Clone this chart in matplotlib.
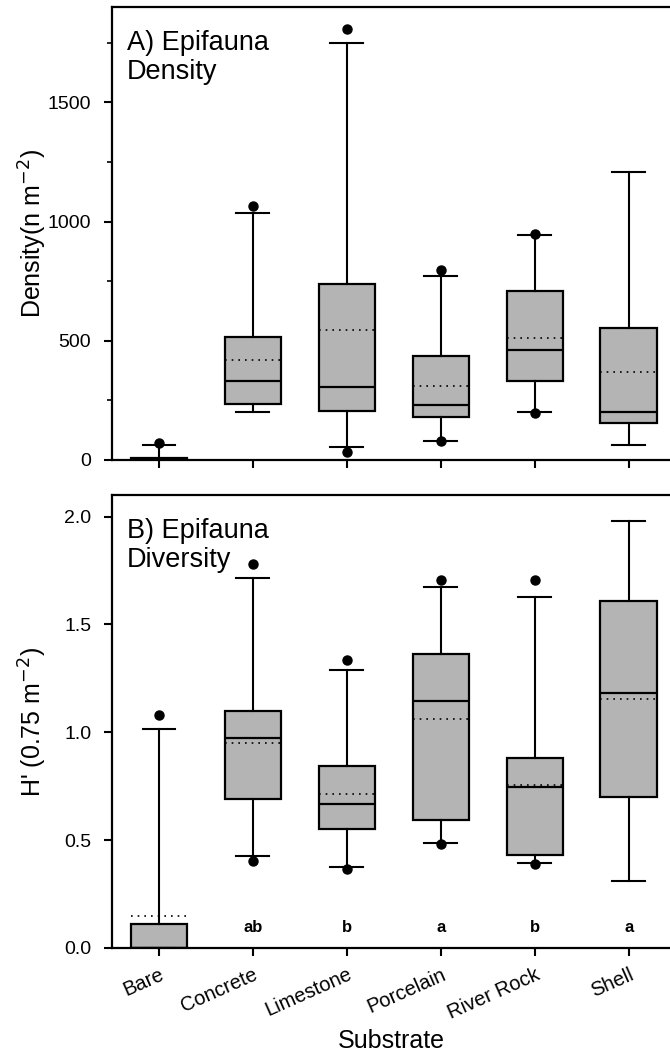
import matplotlib
matplotlib.use("Agg")
import matplotlib.pyplot as plt

plt.rcParams['font.family'] = ['Liberation Sans', 'DejaVu Sans']

categories = ["Bare", "Concrete", "Limestone", "Porcelain", "River Rock", "Shell"]

# Panel A: density
dens_whislo = [0, 203, 53, 81, 203, 63]
dens_q1 = [0, 235, 207, 179, 333, 154]
dens_med = [0, 333, 308, 231, 462, 203]
dens_mean = [4, 420, 546, 311, 511, 367]
dens_q3 = [8, 515, 739, 437, 707, 553]
dens_whishi = [63, 1034, 1750, 773, 945, 1207]
dens_fliers = [[70], [1064], [1809, 35], [795, 78], [948, 196], []]

# Panel B: diversity
div_whislo = [0, 0.427, 0.377, 0.489, 0.392, 0.312]
div_q1 = [0, 0.689, 0.550, 0.594, 0.432, 0.698]
div_med = [0, 0.972, 0.666, 1.143, 0.748, 1.183]
div_mean = [0.15, 0.949, 0.715, 1.062, 0.755, 1.154]
div_q3 = [0.111, 1.098, 0.843, 1.361, 0.879, 1.608]
div_whishi = [1.013, 1.716, 1.287, 1.674, 1.625, 1.98]
div_fliers = [[1.078], [1.779, 0.404], [1.333, 0.365], [1.705, 0.481], [1.708, 0.388], []]

letters = ["", "ab", "b", "a", "b", "a"]


def make_stats(lo, q1, med, mean, q3, hi, fl):
    out = []
    for i in range(len(lo)):
        out.append(dict(whislo=lo[i], q1=q1[i], med=med[i], mean=mean[i],
                        q3=q3[i], whishi=hi[i], fliers=fl[i]))
    return out


W, H = 670, 1059
fig = plt.figure(figsize=(W / 100, H / 100), dpi=100)
ax1 = fig.add_axes([112 / W, 1 - 460 / H, 1 - 112 / W, (460 - 7) / H])
ax2 = fig.add_axes([112 / W, 1 - 948 / H, 1 - 112 / W, (948 - 495) / H])

pos = list(range(len(categories)))

common = dict(positions=pos, widths=0.6, patch_artist=True, showmeans=True,
              meanline=True, showcaps=True,
              boxprops=dict(facecolor='#b4b4b4', edgecolor='black', linewidth=1.6),
              medianprops=dict(color='black', linewidth=1.6),
              meanprops=dict(color='black', linestyle=(0, (1, 3)), linewidth=1.2),
              whiskerprops=dict(color='black', linewidth=1.5),
              capprops=dict(color='black', linewidth=1.5),
              capwidths=0.35,
              flierprops=dict(marker='o', markerfacecolor='black', markeredgecolor='black',
                              markersize=6.5, linestyle='none'))

ax1.bxp(make_stats(dens_whislo, dens_q1, dens_med, dens_mean, dens_q3, dens_whishi, dens_fliers), **common)
ax2.bxp(make_stats(div_whislo, div_q1, div_med, div_mean, div_q3, div_whishi, div_fliers), **common)

for ax in (ax1, ax2):
    ax.set_xlim(-0.5, 5.44)
    ax.spines['right'].set_visible(False)
    for s in ax.spines.values():
        s.set_linewidth(1.6)
    ax.tick_params(axis='y', which='major', direction='out', length=6, width=1.5,
                   labelsize=14, pad=9)
    ax.tick_params(axis='x', which='major', direction='out', length=6, width=1.5,
                   labelsize=14.5, pad=6)
    ax.set_xticks(pos)

ax1.set_ylim(0, 1900)
ax1.set_yticks([0, 500, 1000, 1500])
ax1.set_yticks([250, 750, 1250, 1750], minor=True)
ax1.tick_params(axis='y', which='minor', direction='out', length=3.5, width=1.2)
ax1.set_xticklabels([])
ax1.set_ylabel("Density(n m$^{-2}$)", fontsize=18)
ax1.yaxis.set_label_coords(-0.113, 0.5)
ax1.text(0.027, 0.95, "A) Epifauna\nDensity", transform=ax1.transAxes, fontsize=19.5,
         va='top', ha='left', linespacing=1.15)

ax2.set_ylim(0, 2.1)
ax2.set_yticks([0.0, 0.5, 1.0, 1.5, 2.0])
ax2.set_yticklabels(["0.0", "0.5", "1.0", "1.5", "2.0"])
ax2.set_xticklabels(categories, rotation=24, ha='right', rotation_mode='anchor')
ax2.set_ylabel("H' (0.75 m$^{-2}$)", fontsize=18)
ax2.yaxis.set_label_coords(-0.113, 0.5)
ax2.set_xlabel("Substrate", fontsize=18)
ax2.xaxis.set_label_coords(0.5, -0.178)
ax2.text(0.027, 0.95, "B) Epifauna\nDiversity", transform=ax2.transAxes, fontsize=19.5,
         va='top', ha='left', linespacing=1.15)
for i, lab in enumerate(letters):
    if lab:
        ax2.text(pos[i], 0.093, lab, ha='center', va='center', fontsize=12,
                 fontweight='bold')

fig.savefig("out.png", dpi=100)
